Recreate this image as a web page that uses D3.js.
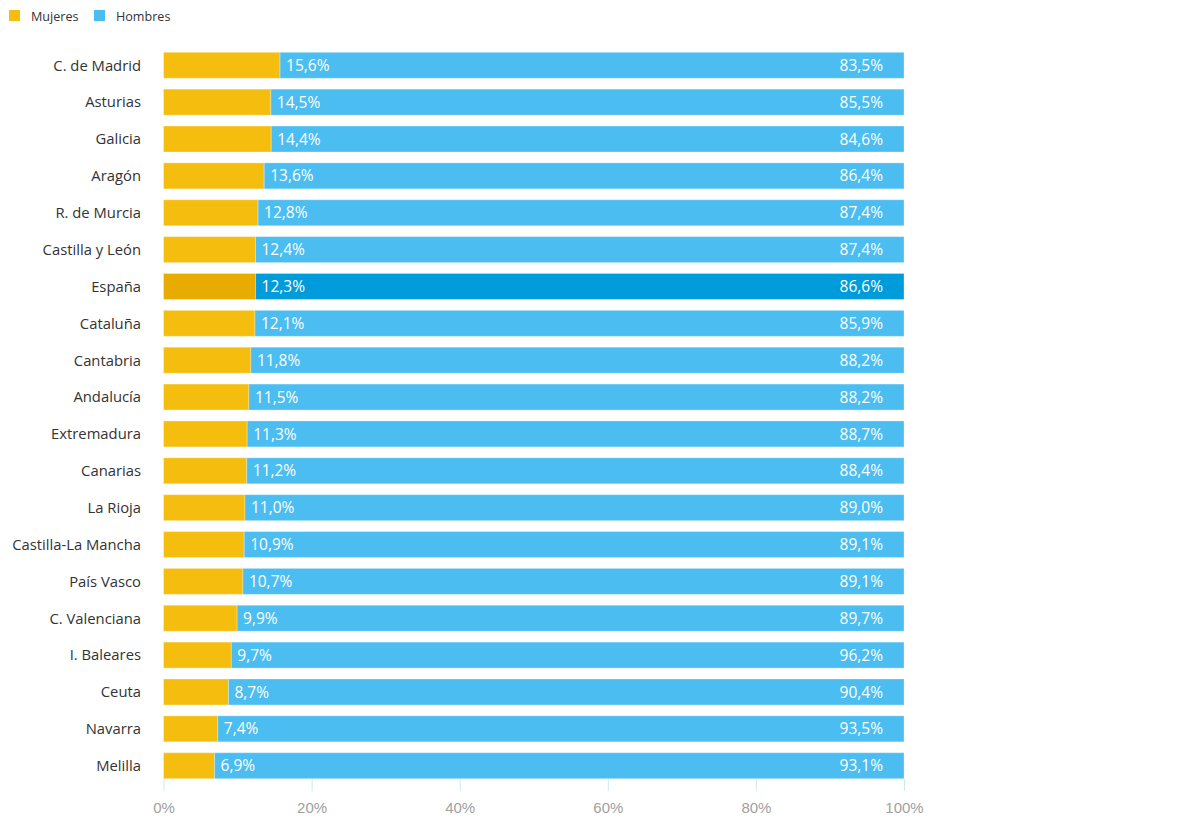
<!DOCTYPE html>
<html><head><meta charset="utf-8">
<script src="https://cdn.jsdelivr.net/npm/d3@7"></script>
<style>
body{margin:0;background:#fff;}
svg{display:block;font-family:"Open Sans","Noto Sans",sans-serif;}
</style></head>
<body><svg id="c" width="1180" height="825"></svg>
<script>
const categories = ["C. de Madrid","Asturias","Galicia","Aragón","R. de Murcia","Castilla y León","España","Cataluña","Cantabria","Andalucía","Extremadura","Canarias","La Rioja","Castilla-La Mancha","País Vasco","C. Valenciana","I. Baleares","Ceuta","Navarra","Melilla"];
const mujeres = [15.6,14.5,14.4,13.6,12.8,12.4,12.3,12.1,11.8,11.5,11.3,11.2,11.0,10.9,10.7,9.9,9.7,8.7,7.4,6.9];
const hombres = [83.5,85.5,84.6,86.4,87.4,87.4,86.6,85.9,88.2,88.2,88.7,88.4,89.0,89.1,89.1,89.7,96.2,90.4,93.5,93.1];
const xTicks = [0,20,40,60,80,100];
const seriesNames = ["Mujeres","Hombres"];
const highlight = "España";

const colors = {Mujeres:"#F5BE0F", Hombres:"#4BBDF0"};
const colorsHi = {Mujeres:"#E8AB00", Hombres:"#009BDB"};

const svg = d3.select("#c");
const x = d3.scaleLinear().domain([0,100]).range([163.5,904]);
const y = d3.scaleBand().domain(categories).range([52.3,778.7]).paddingInner(0.295).paddingOuter(0);

const rows = categories.map((c,i)=>({cat:c, Mujeres:mujeres[i], Hombres:hombres[i]}));
const stack = d3.stack().keys(seriesNames).offset(d3.stackOffsetExpand);
const series = stack(rows);

const fmt = v => d3.format(".1f")(v).replace(".",",")+"%";

// axis
const ax = svg.append("g").attr("transform","translate(0,779)")
  .call(d3.axisBottom(x).tickValues(xTicks).tickSize(12).tickFormat(d=>d+"%"));
ax.select(".domain").remove();
ax.selectAll(".tick line").attr("stroke","#cfe8f7").attr("stroke-width",1);
ax.selectAll(".tick text").attr("fill","#a0a0a0").attr("font-size","15px").attr("dy","1.25em").attr("font-weight",300);

// bars
series.forEach(s=>{
  svg.append("g").selectAll("rect").data(s).join("rect")
    .attr("x",d=>x(d[0]*100))
    .attr("width",d=>x(d[1]*100)-x(d[0]*100))
    .attr("y",d=>y(d.data.cat))
    .attr("height",y.bandwidth())
    .attr("fill",d=>d.data.cat===highlight?colorsHi[s.key]:colors[s.key])
    .attr("stroke","rgba(255,255,255,0.3)")
    .attr("stroke-width",1);
});

// value labels
const mS = series[0];
svg.append("g").selectAll("text").data(mS).join("text")
  .attr("x",d=>x(d[1]*100)+6)
  .attr("y",d=>y(d.data.cat)+y.bandwidth()/2)
  .attr("dy","0.36em")
  .attr("fill","#fff").attr("font-size","15.5px")
  .text(d=>fmt(d.data.Mujeres));
svg.append("g").selectAll("text").data(series[1]).join("text")
  .attr("x",x(100)-21)
  .attr("y",d=>y(d.data.cat)+y.bandwidth()/2)
  .attr("dy","0.36em").attr("text-anchor","end")
  .attr("fill","#fff").attr("font-size","15.5px")
  .text(d=>fmt(d.data.Hombres));

// category labels
svg.append("g").selectAll("text").data(categories).join("text")
  .attr("x",141)
  .attr("y",d=>y(d)+y.bandwidth()/2)
  .attr("dy","0.36em").attr("text-anchor","end")
  .attr("fill","#333").attr("font-size","14.8px")
  .text(d=>d);

// legend
const lg = svg.append("g");
const lx = [9,94];
seriesNames.forEach((n,i)=>{
  lg.append("rect").attr("x",lx[i]).attr("y",10).attr("width",11).attr("height",11).attr("fill",colors[n]);
  lg.append("text").attr("x",lx[i]+22).attr("y",16).attr("dy","0.36em")
    .attr("font-size","12.6px").attr("fill","#333").text(n);
});
</script></body></html>
